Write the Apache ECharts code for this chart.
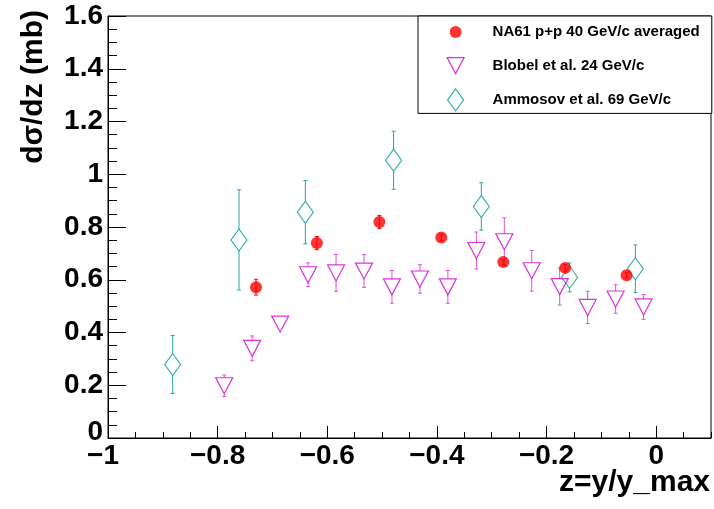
<!DOCTYPE html>
<html><head><meta charset="utf-8">
<script src="https://cdn.jsdelivr.net/npm/echarts@6/dist/echarts.min.js"></script>
<style>html,body{margin:0;padding:0;background:#fff}#c{width:714px;height:509px}</style>
</head><body><div id="c"></div>
<script>
// ---- data ----
const xTitle = 'z=y/y_max';
const yTitle = 'dσ/dz (mb)';
const seriesNames = ['NA61 p+p 40 GeV/c averaged', 'Blobel et al. 24 GeV/c', 'Ammosov et al. 69 GeV/c'];
const yTicks = [0, 0.2, 0.4, 0.6, 0.8, 1, 1.2, 1.4, 1.6];
const xTicks = [-1, -0.8, -0.6, -0.4, -0.2, 0];

const na61X = [-0.730, -0.619, -0.505, -0.392, -0.279, -0.166, -0.054];
const na61Y = [0.572, 0.739, 0.819, 0.760, 0.667, 0.645, 0.617];
const na61E = [0.030, 0.025, 0.025, 0.012, 0.010, 0.012, 0.010];

const blobelX = [-0.788, -0.737, -0.686, -0.635, -0.584, -0.533, -0.482, -0.431, -0.380, -0.328, -0.277, -0.227, -0.176, -0.125, -0.074, -0.023];
const blobelY = [0.198, 0.340, 0.432, 0.619, 0.626, 0.633, 0.573, 0.603, 0.573, 0.711, 0.744, 0.634, 0.574, 0.495, 0.527, 0.497];
const blobelE = [0.041, 0.047, 0.020, 0.045, 0.070, 0.062, 0.062, 0.054, 0.062, 0.070, 0.091, 0.077, 0.070, 0.061, 0.054, 0.047];

const ammosovX = [-0.882, -0.761, -0.640, -0.479, -0.319, -0.158, -0.038];
const ammosovY = [0.279, 0.751, 0.856, 1.053, 0.878, 0.609, 0.642];
const ammosovE = [0.110, 0.190, 0.120, 0.110, 0.090, 0.055, 0.090];

// ---- styling ----
const FONT = "'Liberation Sans', Arial, Helvetica, sans-serif";
const C_RED = '#ff0000', C_MAG = '#d000d0', C_MAG_ERR = '#e050e0', C_TEAL = '#129a9a', C_TEAL_ERR = '#2aa4a4';

function pts(xs, ys) { return xs.map((x, i) => [x, ys[i]]); }
function errData(xs, ys, es) { return xs.map((x, i) => [x, ys[i], ys[i] - es[i], ys[i] + es[i]]); }

function errSeries(name, xs, ys, es, color, gapUp, gapDown) {
  return {
    type: 'custom', name: name, silent: true, data: errData(xs, ys, es),
    encode: { x: 0, y: 1 },
    renderItem: function (params, api) {
      const x = api.value(0), y = api.value(1), lo = api.value(2), hi = api.value(3);
      const c = api.coord([x, y]), t = api.coord([x, hi]), b = api.coord([x, lo]);
      const cap = 2;
      const st = { stroke: color, lineWidth: 1 };
      const ch = [];
      if (t[1] < c[1] - gapUp) {
        ch.push({ type: 'line', shape: { x1: c[0], y1: c[1] - gapUp, x2: c[0], y2: t[1] }, style: st });
        ch.push({ type: 'line', shape: { x1: c[0] - cap, y1: t[1], x2: c[0] + cap, y2: t[1] }, style: st });
      }
      if (b[1] > c[1] + gapDown) {
        ch.push({ type: 'line', shape: { x1: c[0], y1: c[1] + gapDown, x2: c[0], y2: b[1] }, style: st });
        ch.push({ type: 'line', shape: { x1: c[0] - cap, y1: b[1], x2: c[0] + cap, y2: b[1] }, style: st });
      }
      return { type: 'group', children: ch };
    }
  };
}

const iconCircle = 'path://M0 0 M64 22 M26 11 A6 6 0 1 0 38 11 A6 6 0 1 0 26 11 Z';
const iconTri = 'path://M0 0 M64 22 M23.5 3 L40.5 3 L32 19 Z';
const iconDia = 'path://M0 0 M64 22 M32 0 L40 11 L32 22 L24 11 Z';

const chart = echarts.init(document.getElementById('c'), null, { renderer: 'canvas' });
const option = {
  animation: false,
  backgroundColor: '#ffffff',
  textStyle: { fontFamily: FONT },
  grid: { left: 108, right: 3, top: 16, bottom: 71, containLabel: false, outerBoundsMode: 'none',
          show: true, borderColor: '#000', borderWidth: 1, backgroundColor: 'transparent' },
  legend: {
    orient: 'vertical', left: 418, top: 16,
    padding: [5, 12, 2, 5], itemGap: 11, itemWidth: 64, itemHeight: 22,
    symbolKeepAspect: true, selectedMode: false,
    backgroundColor: '#fff', borderColor: '#000', borderWidth: 1, borderRadius: 0,
    textStyle: { fontFamily: FONT, fontWeight: 'bold', fontSize: 15, color: '#000' },
    data: [
      { name: seriesNames[0], icon: iconCircle, itemStyle: { color: C_RED, borderWidth: 0 } },
      { name: seriesNames[1], icon: iconTri, itemStyle: { color: 'transparent', borderColor: C_MAG, borderWidth: 1.2 } },
      { name: seriesNames[2], icon: iconDia, itemStyle: { color: 'transparent', borderColor: C_TEAL, borderWidth: 1.2 } }
    ]
  },
  xAxis: [{
    type: 'value', min: -1, max: 0.1, interval: 0.2, position: 'bottom',
    name: xTitle, nameLocation: 'end', nameGap: -1, nameMoveOverlap: false,
    nameTextStyle: { fontFamily: FONT, fontWeight: 'bold', fontSize: 30, color: '#000', align: 'right', verticalAlign: 'top', padding: [30, 0, 0, 0] },
    axisLine: { show: true, onZero: false, lineStyle: { color: '#000', width: 1 } },
    axisTick: { show: true, inside: true, length: 12, lineStyle: { color: '#000' } },
    splitLine: { show: false },
    axisLabel: {
      show: true, margin: 4, showMaxLabel: false, color: '#000', fontFamily: FONT, fontWeight: 'bold', fontSize: 28,
      formatter: function (v) {
        const a = parseFloat(Math.abs(v).toFixed(2));
        if (a === 0) return '0';
        if (a === 1) return '{m|\u22121}';
        return '\u2212' + a;
      },
      rich: { m: { fontFamily: FONT, fontWeight: 'bold', fontSize: 28, color: '#000', padding: [0, 10, 0, 0] } }
    }
  }, {
    type: 'value', min: -1, max: 0.1, interval: 0.05, position: 'bottom', offset: 0,
    axisLine: { show: false }, axisLabel: { show: false }, splitLine: { show: false },
    axisTick: { show: true, inside: true, length: 6, lineStyle: { color: '#000' } }
  }],
  yAxis: {
    type: 'value', min: 0, max: 1.6, interval: 0.2,
    name: yTitle, nameLocation: 'end', nameGap: 6, nameRotate: 90, nameMoveOverlap: false,
    nameTextStyle: { fontFamily: FONT, fontWeight: 'bold', fontSize: 30, color: '#000', align: 'right', verticalAlign: 'bottom', padding: [0, 0, 59, 0] },
    axisLine: { show: true, onZero: false, lineStyle: { color: '#000', width: 1 } },
    axisTick: { show: true, inside: true, length: 18, lineStyle: { color: '#000' } },
    minorTick: { show: true, splitNumber: 4, length: 9, lineStyle: { color: '#000' } },
    splitLine: { show: false },
    axisLabel: {
      margin: 5, color: '#000', fontFamily: FONT, fontWeight: 'bold', fontSize: 28,
      formatter: function (v) { return v === 0 ? '{z|0}' : String(v); },
      rich: { z: { fontFamily: FONT, fontWeight: 'bold', fontSize: 28, color: '#000', padding: [0, 0, 12, 0] } }
    }
  },
  series: [
    errSeries('Ammosov err', ammosovX, ammosovY, ammosovE, C_TEAL_ERR, 11, 11),
    { type: 'scatter', name: seriesNames[2], data: pts(ammosovX, ammosovY), symbol: 'diamond', symbolSize: [16, 22],
      itemStyle: { color: 'transparent', borderColor: C_TEAL, borderWidth: 1.2 } },
    errSeries('Blobel err', blobelX, blobelY, blobelE, C_MAG_ERR, 8, 8),
    { type: 'scatter', name: seriesNames[1], data: pts(blobelX, blobelY), symbol: 'triangle', symbolRotate: 180, symbolSize: [17, 16],
      itemStyle: { color: 'transparent', borderColor: C_MAG, borderWidth: 1.2 } },
    errSeries('NA61 err', na61X, na61Y, na61E, C_RED, 0, 0),
    { type: 'scatter', name: seriesNames[0], data: pts(na61X, na61Y), symbol: 'circle', symbolSize: 12,
      itemStyle: { color: C_RED, borderWidth: 0 } }
  ]
};
chart.setOption(option);
</script></body></html>
